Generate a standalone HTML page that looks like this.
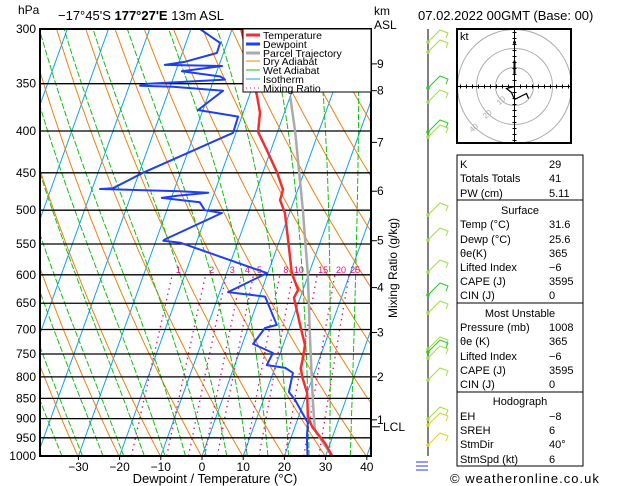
<!DOCTYPE html>
<html><head><meta charset="utf-8"><style>
html,body{margin:0;padding:0;background:#fff}
svg{display:block;font-family:"Liberation Sans",sans-serif}
</style></head><body>
<svg id="c" width="629" height="486" viewBox="0 0 629 486" xmlns="http://www.w3.org/2000/svg">
<defs><clipPath id="pc"><rect x="40" y="29" width="331" height="427"/></clipPath>
<clipPath id="hc"><rect x="457" y="29" width="114" height="114"/></clipPath></defs>
<g id="bg" clip-path="url(#pc)"></g>
<g id="iso"></g>
<g id="traces" clip-path="url(#pc)"></g>
<rect x="40" y="29" width="331" height="427" fill="none" stroke="#000" stroke-width="2"/>
<g id="axes" font-size="12"></g>
<g>
<rect x="243" y="29" width="128" height="63" fill="#fff" stroke="#000" stroke-width="1"/>
<g font-size="10.5">
<line x1="246" y1="35" x2="260" y2="35" stroke="#f03030" stroke-width="3"/><text x="263" y="39">Temperature</text>
<line x1="246" y1="44" x2="260" y2="44" stroke="#1f3ff0" stroke-width="3"/><text x="263" y="48">Dewpoint</text>
<line x1="246" y1="53" x2="260" y2="53" stroke="#aaa" stroke-width="3"/><text x="263" y="57">Parcel Trajectory</text>
<line x1="246" y1="61" x2="260" y2="61" stroke="#f08010" stroke-width="1"/><text x="263" y="65">Dry Adiabat</text>
<line x1="246" y1="70" x2="260" y2="70" stroke="#10c010" stroke-width="1"/><text x="263" y="74">Wet Adiabat</text>
<line x1="246" y1="79" x2="260" y2="79" stroke="#10a0f0" stroke-width="1"/><text x="263" y="83">Isotherm</text>
<line x1="246" y1="88" x2="260" y2="88" stroke="#e0107a" stroke-width="1" stroke-dasharray="1,3"/><text x="263" y="92">Mixing Ratio</text>
</g></g>
<g font-size="13">
<text x="18" y="14" font-size="12">hPa</text>
<text x="58" y="20">−17°45'S <tspan font-weight="bold">177°27'E</tspan> 13m ASL</text>
<text x="374" y="15" font-size="12">km</text>
<text x="374" y="29" font-size="12">ASL</text>
<text x="418" y="20">07.02.2022 00GMT (Base: 00)</text>
</g>
<text transform="translate(397,268) rotate(-90)" text-anchor="middle" font-size="12">Mixing Ratio (g/kg)</text>
<text x="215" y="483" text-anchor="middle" font-size="13">Dewpoint / Temperature (°C)</text>
<g id="wind"></g>
<g id="hodo"></g>
<g id="table" font-size="11"></g>
<text x="450" y="483" font-size="13" letter-spacing="1">© weatheronline.co.uk</text>
</svg>
<script>
const tempP=[1000,964,921,896,837,800,780,756,731,697,640,626,597,541,504,486,472,450,422,401,380,363,300];
const tempT=[31.6,28.7,24.2,22.3,20.0,17.4,16.3,15.9,15.3,12.8,8.5,8.8,5.8,1.8,-1.1,-3.4,-3.6,-6.5,-11.0,-14.7,-15.9,-18.0,-27.8];
const dewP=[1000,948,911,854,835,791,780,774,748,729,697,691,638,630,597,548,545,543,504,500,489,483,480,476,474,471,470,450,402,384,377,357,353,352,350,346,343,338,333,332,329,321,312,300];
const dewT=[25.6,23.8,22.8,17.7,15.5,14.8,12.5,7.8,8.2,2.6,4.1,6.7,1.4,-8.0,-0.2,-23.9,-28.2,-27.9,-16.4,-20.8,-22.7,-32.3,-28.8,-21.5,-28.5,-48.1,-45.0,-39.1,-20.7,-20.9,-31.2,-26.8,-39.3,-47.4,-45.6,-27.3,-28.7,-38.5,-29.2,-43.2,-38.5,-31.6,-31.7,-37.8];
const parcelP=[1000,992,929,854,721,597,543,500,401,363];
const parcelT=[31.6,30.8,25.1,22.0,16.1,9.7,6.1,3.0,-5.7,-10.0];
const pressureTicks=[300,350,400,450,500,550,600,650,700,750,800,850,900,950,1000];
const tempTicks=[-30,-20,-10,0,10,20,30,40];
const kmTicks=[1,2,3,4,5,6,7,8,9];
const kmPress=[903,800,706,622,545,474,413,357,331];
const mixRatios=[1,2,3,4,5,8,10,15,20,25];
const NS='http://www.w3.org/2000/svg';
function yP(p){return 29+Math.log(p/300)/Math.log(1000/300)*427;}
function xT(t,p){return 202+4.12*t+0.36*(456-yP(p));}
function mk(tag,attrs,parent){const e=document.createElementNS(NS,tag);for(const k in attrs)e.setAttribute(k,attrs[k]);parent.appendChild(e);return e;}
const bg=document.getElementById('bg'),tr=document.getElementById('traces'),iso=document.getElementById('iso'),ax=document.getElementById('axes');
for(let t=-110;t<=40;t+=10){const l=mk('line',{x1:xT(t,1000),y1:yP(1000),x2:xT(t,300),y2:yP(300),stroke:'#10a0f0','stroke-width':1},bg);

}
for(let th=203;th<=463;th+=10){let pts=[];for(let p=1000;p>=300;p-=10){const T=th*Math.pow(p/1000,0.286)-273.15;pts.push(xT(T,p).toFixed(1)+','+yP(p).toFixed(1));}
const l=mk('polyline',{points:pts.join(' '),fill:'none',stroke:'#f08010','stroke-width':1},bg);

}
function es(T){return 6.112*Math.exp(17.67*T/(T+243.5));}
for(let t0=-44;t0<=46;t0+=5){let T=t0,pts=[];for(let p=1000;p>=300;p-=5){pts.push(xT(T,p).toFixed(1)+','+yP(p).toFixed(1));
const Tk=T+273.15,rs=0.622*es(T)/(p-es(T));const dTdp=(287*Tk+2.5e6*rs)/(p*(1004+2.5e6*2.5e6*rs*0.622/(287*Tk*Tk)));T-=dTdp*5;}
const l=mk('polyline',{points:pts.join(' '),fill:'none',stroke:'#10c010','stroke-width':1,'stroke-dasharray':'6,2'},bg);

}
function tdw(w,p){const e=w*p/(622+w),g=Math.log(e/6.112);return 243.5*g/(17.67-g);}
mixRatios.forEach(w=>{let pts=[];for(let p=1000;p>=600;p-=10)pts.push(xT(tdw(w,p),p).toFixed(1)+','+yP(p).toFixed(1));
const l=mk('polyline',{points:pts.join(' '),fill:'none',stroke:'#e0107a','stroke-width':1.3,'stroke-dasharray':'1.5,4'},bg);


const tx=mk('text',{x:xT(tdw(w,600),600)+6,y:yP(600)-2,'font-size':9,fill:'#e0107a','text-anchor':'middle'},bg);tx.textContent=w;

});
pressureTicks.forEach(p=>{const y=yP(p);const l=mk('line',{x1:40,y1:y,x2:371,y2:y,stroke:'#000','stroke-width':1.3},iso);


const t=mk('text',{x:36,y:y+4,'text-anchor':'end'},ax);t.textContent=p;

});
tempTicks.forEach(t=>{const x=xT(t,1000);const l=mk('line',{x1:x,y1:456,x2:x,y2:460,stroke:'#000'},ax);


const tx=mk('text',{x:x,y:471,'text-anchor':'middle'},ax);tx.textContent=(t<0?'−'+(-t):t);

});
kmTicks.forEach((k,i)=>{const y=yP(kmPress[i]);const l=mk('line',{x1:371,y1:y,x2:377,y2:y,stroke:'#000'},ax);


const tx=mk('text',{x:377,y:y+4},ax);tx.textContent=k;

});
{const y=yP(921);mk('line',{x1:371,y1:y,x2:380,y2:y,stroke:'#000'},ax);const tx=mk('text',{x:383,y:y+4},ax);tx.textContent='LCL';

}
function trace(P,T,col,w,name){const pts=P.map((p,i)=>xT(T[i],p).toFixed(1)+','+yP(p).toFixed(1)).join(' ');
const l=mk('polyline',{points:pts,fill:'none',stroke:col,'stroke-width':w,'stroke-linejoin':'round'},tr);

}
trace(parcelP,parcelT,'#aaa',2.5,'parcel-trajectory');
trace(tempP,tempT,'#f03030',2.5,'temperature-line');
trace(dewP,dewT,'#1f3ff0',2,'dewpoint-line');
const wd=document.getElementById('wind');
mk('line',{x1:428,y1:29,x2:428,y2:456,stroke:'#000','stroke-width':1},wd);
const barbY=[42,52,88,102,132,137,215,240,272,295,313,349,352,358,380,419,425,445];
const barbC=['#a0e040','#a0e040','#20d020','#a0e040','#20d020','#a0e040','#a0e040','#a0e040','#a0e040','#20d020','#a0e040','#a0e040','#20d020','#a0e040','#a0e040','#a0e040','#e0d020','#e0d020'];
barbY.forEach((y,i)=>{const g=mk('polyline',{points:`428,${y} 440,${y-12} 448,${y-9} 446,${y-4}`,fill:'none',stroke:barbC[i],'stroke-width':1},wd);


mk('circle',{cx:428,cy:y,r:1.8,fill:barbC[i]},wd);});
mk('path',{d:'M428,462 h-12 M428,466 h-12 M428,470 h-12',stroke:'#1f3ff0',fill:'none'},wd);
const hd=document.getElementById('hodo');const cx=514.5,cy=86.5;
const hg=mk('g',{'clip-path':'url(#hc)'},hd);
[19,38,57].forEach(r=>mk('circle',{cx:cx,cy:cy,r:r,fill:'none',stroke:'#aaa','stroke-width':1},hg));
mk('line',{x1:457,y1:cy,x2:572,y2:cy,stroke:'#000'},hd);mk('line',{x1:cx,y1:29,x2:cx,y2:143,stroke:'#000'},hd);
for(let d=-54;d<=54;d+=6){mk('line',{x1:cx+d,y1:cy-2,x2:cx+d,y2:cy+2,stroke:'#000'},hd);mk('line',{x1:cx-2,y1:cy+d,x2:cx+2,y2:cy+d,stroke:'#000'},hd);}
mk('polyline',{points:`${cx},${cy} ${cx-8},${cy+2} ${cx-3},${cy+6} ${cx},${cy+13} ${cx+12},${cy+7} ${cx+14},${cy+12}`,fill:'none',stroke:'#000','stroke-width':1.2},hd);
mk('line',{x1:cx,y1:cy-12,x2:cx,y2:cy-26,stroke:'#000','stroke-width':2},hd);
mk('circle',{cx:cx,cy:cy-44,r:1.5},hd);
mk('rect',{x:457,y:29,width:114,height:114,fill:'none',stroke:'#000','stroke-width':2},hd);
const kt=mk('text',{x:460,y:40,'font-size':11},hd);kt.textContent='kt';
[[19,'10'],[38,'20'],[57,'40']].forEach(([r,s])=>{const t=mk('text',{x:cx-r*0.72,y:cy+r*0.72+3,'font-size':8,fill:'#aaa','text-anchor':'middle',transform:`rotate(-40 ${cx-r*0.72} ${cy+r*0.72})`},hd);t.textContent=s;});
const tb=document.getElementById('table');
const secs=[[155,200],[200,303],[303,392],[392,466]];
secs.forEach(s=>mk('rect',{x:457,y:s[0],width:126,height:s[1]-s[0],fill:'none',stroke:'#000','stroke-width':1},tb));
const rows=[[168,'K','29'],[182,'Totals Totals','41'],[197,'PW (cm)','5.11'],[214,'Surface',null],[228,'Temp (°C)','31.6'],[243,'Dewp (°C)','25.6'],[257,'θe(K)','365'],[271,'Lifted Index','−6'],[285,'CAPE (J)','3595'],[299,'CIN (J)','0'],[317,'Most Unstable',null],[331,'Pressure (mb)','1008'],[345,'θe (K)','365'],[360,'Lifted Index','−6'],[374,'CAPE (J)','3595'],[388,'CIN (J)','0'],[405,'Hodograph',null],[420,'EH','−8'],[434,'SREH','6'],[448,'StmDir','40°'],[463,'StmSpd (kt)','6']];
rows.forEach(r=>{if(r[2]===null){const t=mk('text',{x:520,y:r[0],'text-anchor':'middle'},tb);t.textContent=r[1];

}
else{const a=mk('text',{x:460,y:r[0]},tb);a.textContent=r[1];


const b=mk('text',{x:549,y:r[0]},tb);b.textContent=r[2];

}});
</script>
</body></html>
